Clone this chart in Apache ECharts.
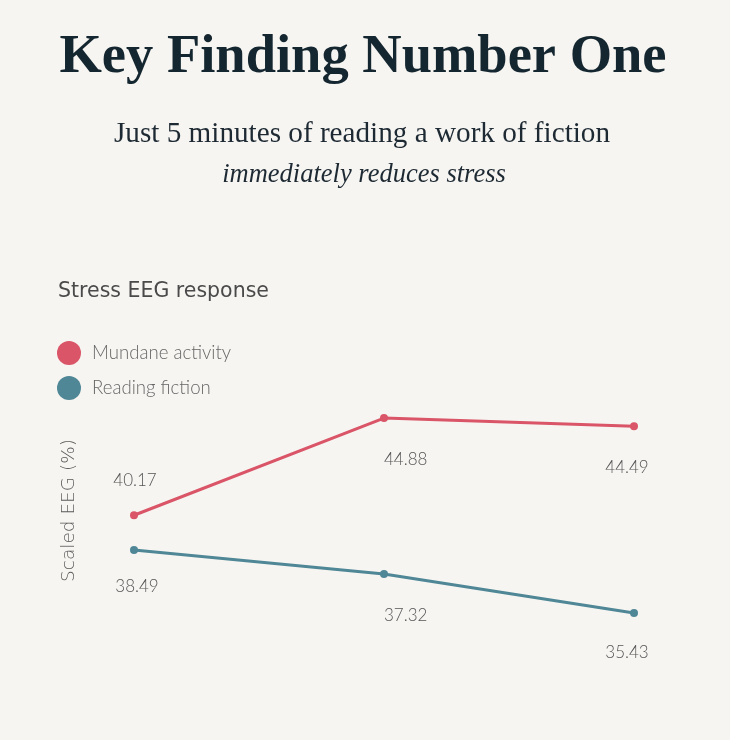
<!DOCTYPE html>
<html>
<head>
<meta charset="utf-8">
<script src="https://cdn.jsdelivr.net/npm/echarts@6/dist/echarts.min.js"></script>
<style>
html,body{margin:0;padding:0;background:#f7f5f2;}
#chart{width:730px;height:740px;}
</style>
</head>
<body>
<div id="chart"></div>
<script>
const categories = ['Baseline', 'Time 2', 'Time 3'];
const mundaneValues = [40.17, 44.88, 44.49];
const readingValues = [38.49, 37.32, 35.43];
const seriesNames = ['Mundane activity', 'Reading fiction'];
const titleText = 'Key Finding Number One';
const subtitleLine1 = 'Just 5 minutes of reading a work of fiction';
const subtitleLine2 = 'immediately reduces stress';
const chartLabel = 'Stress EEG response';
const yAxisName = 'Scaled EEG (%)';

const RED = '#d95567';
const TEAL = '#4f8796';
const LABEL_FONT = 'Lato';
const labelBase = {show: true, color: '#555', fontFamily: LABEL_FONT, fontSize: 17, fontWeight: 300,
  formatter: p => p.value.toFixed(2)};

const mundaneLabels = [
  {position: 'top', distance: 22, offset: [1, 0]},
  {position: 'bottom', distance: 29, align: 'left', offset: [0, 0]},
  {position: 'bottom', distance: 29, offset: [-7, 0]}
];
const readingLabels = [
  {position: 'bottom', distance: 24, offset: [3, 0]},
  {position: 'bottom', distance: 29, align: 'left', offset: [0, 0]},
  {position: 'bottom', distance: 27, offset: [-7, 0]}
];

const chart = echarts.init(document.getElementById('chart'), null, {renderer: 'canvas'});
chart.setOption({
  backgroundColor: '#f7f5f2',
  animation: false,
  graphic: [
    {type: 'text', x: 363, y: 58, style: {text: titleText, fill: '#14262f',
      font: 'bold 54.5px "Liberation Serif", serif', align: 'center', verticalAlign: 'middle'}},
    {type: 'text', x: 362, y: 134, style: {text: subtitleLine1, fill: '#1e2a33',
      font: '29.2px "Liberation Serif", serif', align: 'center', verticalAlign: 'middle'}},
    {type: 'text', x: 364, y: 175, style: {text: subtitleLine2, fill: '#1e2a33',
      font: 'italic 26.5px "Liberation Serif", serif', align: 'center', verticalAlign: 'middle'}},
    {type: 'text', x: 58, y: 292, style: {text: chartLabel, fill: '#4a4a4a',
      font: '20.5px "DejaVu Sans", sans-serif', align: 'left', verticalAlign: 'middle'}}
  ],
  legend: {
    data: seriesNames,
    orient: 'vertical',
    left: 52, top: 336,
    icon: 'circle',
    itemWidth: 24, itemHeight: 24, itemGap: 11,
    textStyle: {color: '#666', fontFamily: LABEL_FONT, fontSize: 18.6, fontWeight: 300, padding: [0, 0, 0, 6]}
  },
  grid: {left: 134, right: 96, top: 395, bottom: 114, containLabel: false},
  xAxis: {
    type: 'category', data: categories, boundaryGap: false,
    axisLine: {show: false}, axisTick: {show: false}, axisLabel: {show: false}, splitLine: {show: false}
  },
  yAxis: {
    type: 'value', min: 34.8, max: 46,
    name: yAxisName, nameLocation: 'middle', nameRotate: 90, nameGap: 55,
    nameTextStyle: {color: '#5a5a5a', fontFamily: 'DejaVu Sans', fontSize: 18.5, fontWeight: 300},
    axisLine: {show: false}, axisTick: {show: false}, axisLabel: {show: false}, splitLine: {show: false}
  },
  series: [
    {
      name: seriesNames[0], type: 'line', data: mundaneValues.map((v, i) => ({value: v, label: Object.assign({}, labelBase, mundaneLabels[i])})),
      color: RED, symbol: 'circle', symbolSize: 8, lineStyle: {width: 3, color: RED},
      itemStyle: {color: RED}, label: labelBase
    },
    {
      name: seriesNames[1], type: 'line', data: readingValues.map((v, i) => ({value: v, label: Object.assign({}, labelBase, readingLabels[i])})),
      color: TEAL, symbol: 'circle', symbolSize: 8, lineStyle: {width: 3, color: TEAL},
      itemStyle: {color: TEAL}, label: labelBase
    }
  ]
});
</script>
</body>
</html>
